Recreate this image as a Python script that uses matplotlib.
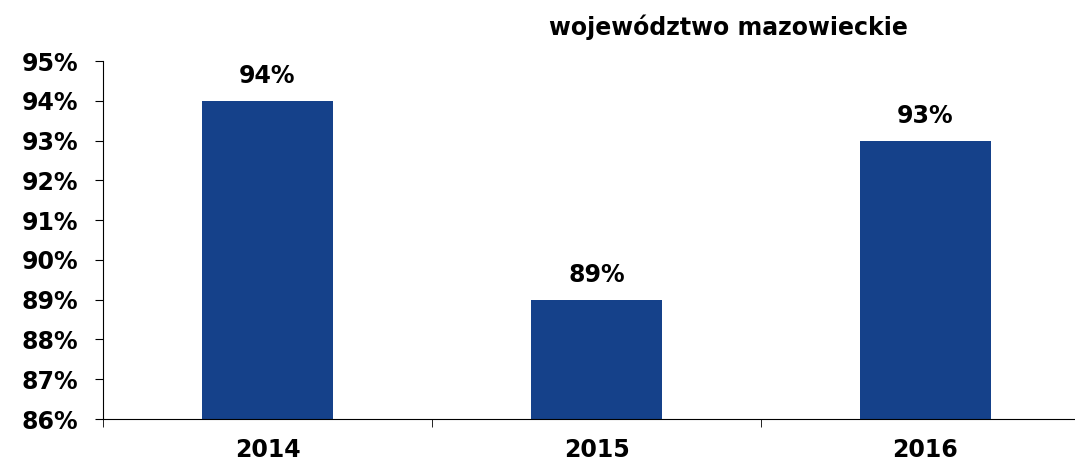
import matplotlib
matplotlib.use("Agg")
import matplotlib.pyplot as plt
from matplotlib.ticker import FixedLocator, PercentFormatter

categories = ["2014", "2015", "2016"]
values = [0.94, 0.89, 0.93]
value_labels = ["94%", "89%", "93%"]
title = "województwo mazowieckie"
yticks = [0.86, 0.87, 0.88, 0.89, 0.90, 0.91, 0.92, 0.93, 0.94, 0.95]

FS = 17
plt.rcParams['font.family'] = ['DejaVu Sans']
fig = plt.figure(figsize=(10.75, 4.61), dpi=100)
ax = fig.add_axes([103/1075, 1-419/461, (1090-103)/1075, (419-61)/461])

x = list(range(len(categories)))
ax.bar(x, values, width=0.4, color="#15418A", zorder=2)
for xi, v, lab in zip(x, values, value_labels):
    ax.annotate(lab, (xi, v), xytext=(0, 9), textcoords="offset points",
                ha="center", va="bottom", fontsize=FS, fontweight="bold")

ax.set_xlim(-0.5, len(categories) - 0.5)
ax.set_ylim(0.86, 0.95)
ax.set_yticks(yticks)
ax.yaxis.set_major_formatter(PercentFormatter(1.0, decimals=0))
ax.set_xticks(x)
ax.set_xticklabels(categories)
ax.xaxis.set_minor_locator(FixedLocator([i - 0.5 for i in range(len(categories) + 1)]))
ax.tick_params(axis="x", which="major", length=0, pad=14, labelsize=FS)
ax.tick_params(axis="x", which="minor", length=6, direction="out")
ax.tick_params(axis="y", length=6, direction="out", pad=12, labelsize=FS)
for lab in ax.get_xticklabels() + ax.get_yticklabels():
    lab.set_fontweight("bold")
ax.spines["top"].set_visible(False)
ax.spines["right"].set_visible(False)

fig.text(728/1075, 1-27/461, title, ha="center", va="center",
         fontsize=FS, fontweight="bold")

fig.savefig("out.png", dpi=100)
